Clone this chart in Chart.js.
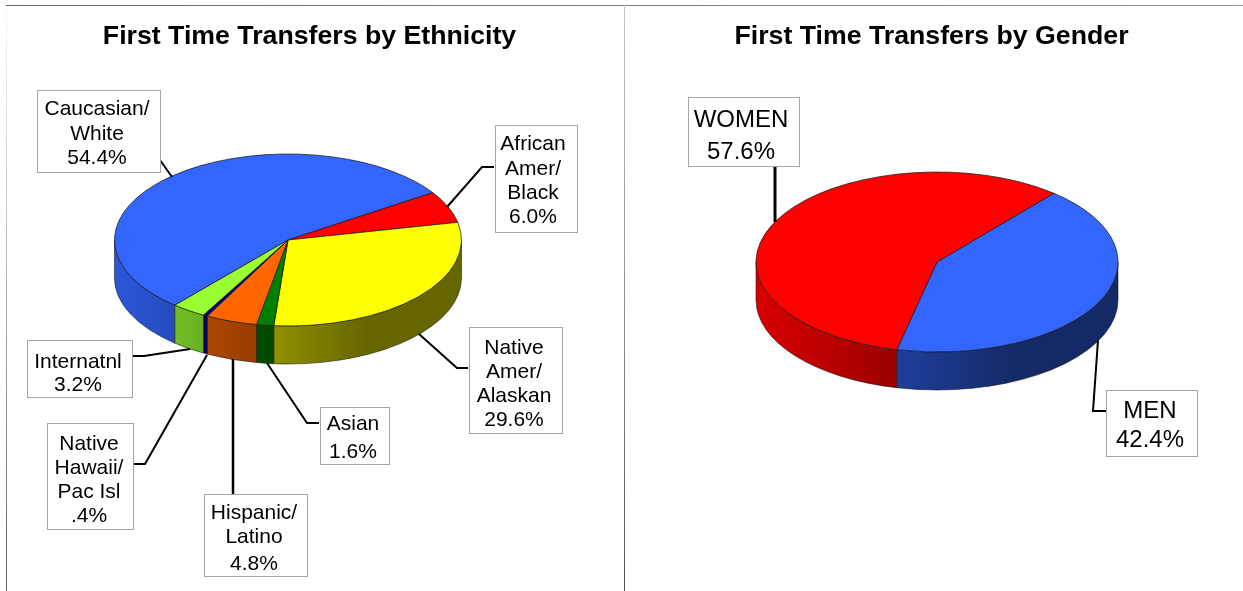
<!DOCTYPE html>
<html>
<head>
<meta charset="utf-8">
<script src="https://cdn.jsdelivr.net/npm/chart.js@4"></script>
<style>
html,body{margin:0;padding:0;background:#fff;width:1243px;height:591px;overflow:hidden}
canvas{position:absolute;top:0}
#lineTop{position:absolute;left:6px;top:5px;width:1237px;height:1px;background:linear-gradient(90deg,#666,#999)}
#lineLeft{position:absolute;left:6px;top:6px;width:1px;height:585px;background:linear-gradient(#fafafa 0,#b0b0b0 50%,#606060 100%)}
#lineMid{position:absolute;left:624px;top:5px;width:1px;height:586px;background:linear-gradient(#c4c4c4 0,#909090 50%,#555 100%)}
</style>
</head>
<body>
<div id="lineTop"></div><div id="lineLeft"></div><div id="lineMid"></div>
<canvas id="left" style="left:0"></canvas>
<canvas id="right" style="left:624px"></canvas>
<script>
// ---- data ----
const ethnicityTitle = 'First Time Transfers by Ethnicity';
const ethnicityLabels = ['Caucasian/\nWhite','African\nAmer/\nBlack','Native\nAmer/\nAlaskan','Asian','Hispanic/\nLatino','Native\nHawaii/\nPac Isl','Internatnl'];
const ethnicityValues = [54.4, 6.0, 29.6, 1.6, 4.8, 0.4, 3.2];
const ethnicityColors = ['#3366FF','#FF0000','#FFFF00','#008000','#FF6600','#000080','#99FF33'];

const genderTitle = 'First Time Transfers by Gender';
const genderLabels = ['MEN','WOMEN'];
const genderValues = [42.4, 57.6];
const genderColors = ['#3366FF','#FF0000'];

// ---- layout (page pixels) ----
const ethnicityPie = {cx:288, cy:240, rx:173.5, ry:86, depth:38, rotation:220.7, font:21};
const genderPie = {cx:937, cy:262, rx:181, ry:90, depth:38, rotation:40.2, font:24};
const ethnicityBoxes = [
  {x:37, y:90, w:123, h:82, tx:97, lines:[109,134,158], lead:[[160,160],[172,177]], lw:2},
  {x:494.5, y:125, w:82, h:107, tx:533, lines:[144,169,193,217], lead:[[494,167],[482,167],[447,207]], lw:2},
  {x:468.5, y:327, w:92.5, h:106, tx:514, lines:[348,372,396,420], lead:[[468,368],[457,368],[419,334]], lw:2},
  {x:319.5, y:407, w:69, h:57, tx:353, lines:[424,452], lead:[[319,423],[307,423],[267,363]], lw:2},
  {x:204, y:494, w:103, h:82, tx:254, lines:[513,537,564], lead:[[233,494],[233,359]], lw:2.5},
  {x:47, y:423, w:86, h:106, tx:89, lines:[444,468,492,516], lead:[[133,464],[145,464],[207,355]], lw:2},
  {x:27, y:340, w:105, h:57, tx:78, lines:[362,385], lead:[[132,356],[144,356],[190,349]], lw:2}
];
const genderBoxes = [
  {x:1106, y:390, w:91, h:66, tx:1150, lines:[411,440], lead:[[1106,411],[1093,411],[1098,340]], lw:2},
  {x:687.5, y:97, w:110.5, h:69, tx:741, lines:[120,152], lead:[[775,166],[775,222]], lw:3}
];

function shade(hex, f){
  const n = parseInt(hex.slice(1),16);
  return `rgb(${Math.round((n>>16&255)*f)},${Math.round((n>>8&255)*f)},${Math.round((n&255)*f)})`;
}
function pct(v){ return v.toFixed(1).replace(/^0/,'') + '%'; }

const tiltPlugin = {
  id:'tilt',
  beforeDatasetsDraw(chart, args, o){
    const ctx = chart.ctx, g = o.geom, ox = o.offsetX;
    const cx = g.cx-ox, cy = g.cy, rx = g.rx, ry = g.ry, d = g.depth;
    const meta = chart.getDatasetMeta(0);
    // side wall of every slice that faces the viewer
    meta.data.forEach((arc,i)=>{
      const base = chart.data.datasets[0].backgroundColor[i];
      const grad = ctx.createLinearGradient(cx-rx,0,cx+rx,0);
      grad.addColorStop(0, shade(base,0.85));
      grad.addColorStop(0.725, shade(base,0.40));
      grad.addColorStop(1, shade(base,0.40));
      [0,2*Math.PI].forEach(k=>{
        const a = Math.max(arc.startAngle,k), b = Math.min(arc.endAngle,k+Math.PI);
        if(b<=a) return;
        ctx.beginPath();
        ctx.ellipse(cx,cy+d,rx,ry,0,a,b);
        ctx.ellipse(cx,cy,rx,ry,0,b,a,true);
        ctx.closePath();
        ctx.fillStyle = grad;
        ctx.fill();
        ctx.lineWidth = 0.7;
        ctx.strokeStyle = 'rgba(20,20,20,0.8)';
        ctx.stroke();
      });
    });
    const first = meta.data[0];
    ctx.save();
    ctx.translate(cx,cy);
    ctx.scale(1,ry/rx);
    ctx.translate(-first.x,-first.y);
  },
  afterDatasetsDraw(chart, args, o){
    const ctx = chart.ctx;
    ctx.restore();
    ctx.save();
    ctx.translate(-o.offsetX,0);
    const vals = chart.data.datasets[0].data, labs = chart.data.labels;
    o.boxes.forEach((b,i)=>{
      ctx.beginPath();
      b.lead.forEach((p,j)=> j?ctx.lineTo(p[0],p[1]):ctx.moveTo(p[0],p[1]));
      ctx.lineWidth = b.lw; ctx.strokeStyle = '#000'; ctx.lineJoin='miter'; ctx.stroke();
      ctx.fillStyle = '#fff'; ctx.fillRect(b.x,b.y,b.w,b.h);
      ctx.lineWidth = 1; ctx.strokeStyle = '#a6a6a6';
      ctx.strokeRect(Math.round(b.x)+.5,Math.round(b.y)+.5,Math.round(b.w),Math.round(b.h));
      ctx.fillStyle = '#000'; ctx.textAlign='center'; ctx.textBaseline='middle';
      ctx.font = o.geom.font+'px "Liberation Sans", Arial, sans-serif';
      const text = labs[i].split('\n').concat(pct(vals[i]));
      text.forEach((t,j)=> ctx.fillText(t,b.tx,b.lines[j]));
    });
    ctx.restore();
  }
};

function makePie(id, width, offsetX, title, labels, values, colors, geom, boxes){
  const cv = document.getElementById(id);
  cv.width = width; cv.height = 591;
  cv.style.width = width+'px'; cv.style.height = '591px';
  return new Chart(cv,{
    type:'pie',
    data:{labels, datasets:[{data:values, backgroundColor:colors, borderColor:'#1a1a1a', borderWidth:1, clip:false}]},
    options:{
      responsive:false, animation:false, rotation:geom.rotation, radius:geom.rx,
      layout:{padding:0},
      plugins:{
        legend:{display:false}, tooltip:{enabled:false},
        title:{display:true, text:title, color:'#000', padding:{top:21,bottom:0},
               font:{family:'"Liberation Sans", Arial, sans-serif', size:26.7, weight:'bold', lineHeight:1.2}},
        tilt:{geom, boxes, offsetX}
      }
    },
    plugins:[tiltPlugin]
  });
}
makePie('left',619,0,ethnicityTitle,ethnicityLabels,ethnicityValues,ethnicityColors,ethnicityPie,ethnicityBoxes);
makePie('right',615,624,genderTitle,genderLabels,genderValues,genderColors,genderPie,genderBoxes);
</script>
</body>
</html>
